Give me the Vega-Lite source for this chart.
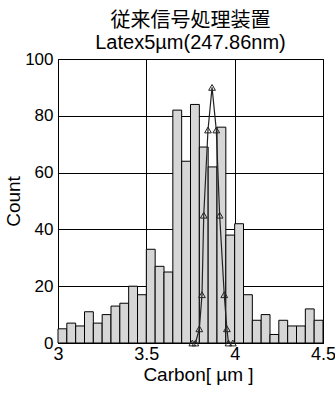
{
  "$schema": "https://vega.github.io/schema/vega-lite/v6.json",
  "width": 265,
  "height": 284,
  "autosize": {"type": "none"},
  "padding": {"left": 58, "top": 59, "right": 12, "bottom": 51},
  "background": "white",
  "config": {
    "view": {"stroke": "black", "strokeWidth": 1},
    "font": "Liberation Sans"
  },
  "title": {
    "text": ["従来信号処理装置", "Latex5µm(247.86nm)"],
    "font": "Liberation Sans, Noto Sans CJK JP",
    "fontSize": 20,
    "fontWeight": "normal",
    "color": "black",
    "anchor": "middle",
    "lineHeight": 22,
    "offset": -3
  },
  "datasets": {
    "hist": [
      {"start": 3.00, "end": 3.05, "count": 5},
      {"start": 3.05, "end": 3.10, "count": 7},
      {"start": 3.10, "end": 3.15, "count": 6},
      {"start": 3.15, "end": 3.20, "count": 11},
      {"start": 3.20, "end": 3.25, "count": 7},
      {"start": 3.25, "end": 3.30, "count": 10},
      {"start": 3.30, "end": 3.35, "count": 13},
      {"start": 3.35, "end": 3.40, "count": 14},
      {"start": 3.40, "end": 3.45, "count": 20},
      {"start": 3.45, "end": 3.50, "count": 17},
      {"start": 3.50, "end": 3.55, "count": 33},
      {"start": 3.55, "end": 3.60, "count": 27},
      {"start": 3.60, "end": 3.65, "count": 25},
      {"start": 3.65, "end": 3.70, "count": 82},
      {"start": 3.70, "end": 3.75, "count": 64},
      {"start": 3.75, "end": 3.80, "count": 84},
      {"start": 3.80, "end": 3.85, "count": 69},
      {"start": 3.85, "end": 3.90, "count": 62},
      {"start": 3.90, "end": 3.95, "count": 76},
      {"start": 3.95, "end": 4.00, "count": 38},
      {"start": 4.00, "end": 4.05, "count": 42},
      {"start": 4.05, "end": 4.10, "count": 17},
      {"start": 4.10, "end": 4.15, "count": 8},
      {"start": 4.15, "end": 4.20, "count": 10},
      {"start": 4.20, "end": 4.25, "count": 3},
      {"start": 4.25, "end": 4.30, "count": 8},
      {"start": 4.30, "end": 4.35, "count": 6},
      {"start": 4.35, "end": 4.40, "count": 6},
      {"start": 4.40, "end": 4.45, "count": 12},
      {"start": 4.45, "end": 4.50, "count": 8}
    ],
    "line": [
      {"x": 3.760, "y": 0},
      {"x": 3.778, "y": 0},
      {"x": 3.800, "y": 5},
      {"x": 3.815, "y": 17},
      {"x": 3.825, "y": 45},
      {"x": 3.849, "y": 75},
      {"x": 3.872, "y": 90},
      {"x": 3.896, "y": 75},
      {"x": 3.915, "y": 45},
      {"x": 3.941, "y": 17},
      {"x": 3.956, "y": 5},
      {"x": 3.965, "y": 0},
      {"x": 3.990, "y": 0}
    ]
  },
  "layer": [
    {
      "data": {"name": "hist"},
      "mark": {"type": "rect", "fill": "#d6d6d6", "stroke": "black", "strokeWidth": 1},
      "encoding": {
        "x": {
          "field": "start", "type": "quantitative",
          "scale": {"domain": [3, 4.5], "nice": false, "zero": false},
          "axis": {
            "values": [3, 3.5, 4, 4.5],
            "format": "~g",
            "title": "Carbon[ µm ]",
            "titleFont": "Liberation Sans",
            "titleFontSize": 19,
            "titleFontWeight": "normal",
            "titleColor": "black",
            "titlePadding": 2,
            "titleX": 140,
            "labelFontSize": 18,
            "labelColor": "black",
            "labelPadding": 2,
            "labelFlush": false,
            "ticks": false,
            "domain": false,
            "grid": true,
            "gridColor": "black",
            "gridOpacity": 1,
            "gridWidth": 1
          }
        },
        "x2": {"field": "end"},
        "y": {
          "field": "count", "type": "quantitative",
          "scale": {"domain": [0, 100], "nice": false},
          "axis": {
            "values": [0, 20, 40, 60, 80, 100],
            "title": "Count",
            "titleFont": "Liberation Sans",
            "titleFontSize": 19,
            "titleFontWeight": "normal",
            "titleColor": "black",
            "titlePadding": 1,
            "labelFontSize": 17,
            "labelColor": "black",
            "labelPadding": 5,
            "labelFlush": false,
            "ticks": false,
            "domain": false,
            "grid": true,
            "gridColor": "black",
            "gridOpacity": 1,
            "gridWidth": 1
          }
        },
        "y2": {"datum": 0}
      }
    },
    {
      "data": {"name": "line"},
      "mark": {
        "type": "line",
        "color": "#222",
        "strokeWidth": 1.2,
        "point": {"shape": "triangle-up", "filled": false, "size": 45, "stroke": "#222", "strokeWidth": 1}
      },
      "encoding": {
        "x": {"field": "x", "type": "quantitative"},
        "y": {"field": "y", "type": "quantitative"}
      }
    }
  ]
}
